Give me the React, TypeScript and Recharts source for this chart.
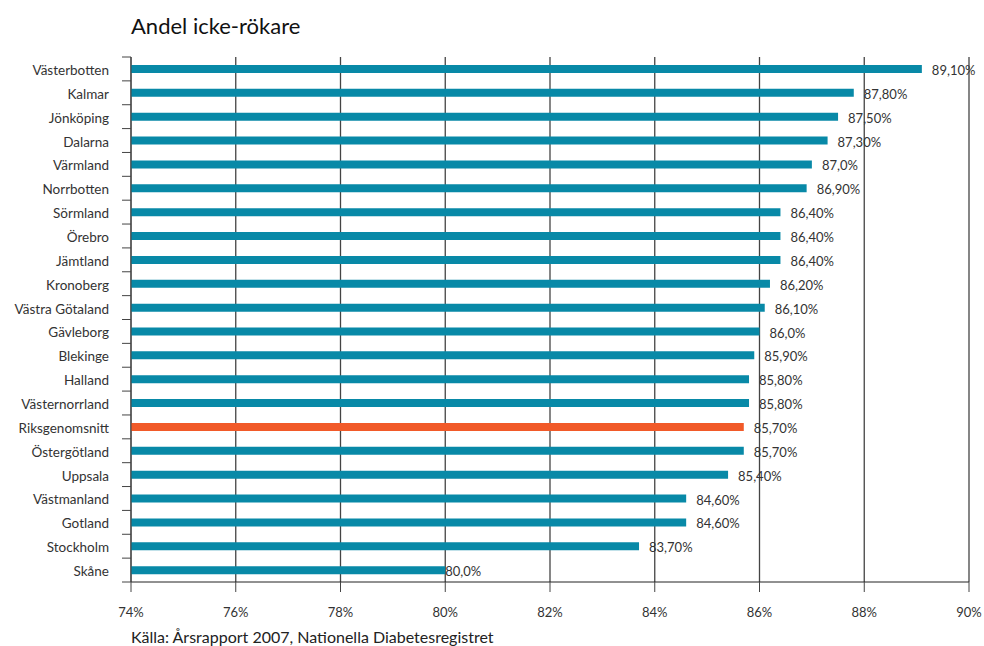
import React from "react";
import { BarChart, Bar, XAxis, YAxis, CartesianGrid, Cell, LabelList } from "recharts";

const regions = [
  "Västerbotten", "Kalmar", "Jönköping", "Dalarna", "Värmland", "Norrbotten",
  "Sörmland", "Örebro", "Jämtland", "Kronoberg", "Västra Götaland", "Gävleborg",
  "Blekinge", "Halland", "Västernorrland", "Riksgenomsnitt", "Östergötland",
  "Uppsala", "Västmanland", "Gotland", "Stockholm", "Skåne",
];
const shares = [
  89.1, 87.8, 87.5, 87.3, 87.0, 86.9, 86.4, 86.4, 86.4, 86.2, 86.1, 86.0,
  85.9, 85.8, 85.8, 85.7, 85.7, 85.4, 84.6, 84.6, 83.7, 80.0,
];
const shareLabels = [
  "89,10%", "87,80%", "87,50%", "87,30%", "87,0%", "86,90%", "86,40%", "86,40%",
  "86,40%", "86,20%", "86,10%", "86,0%", "85,90%", "85,80%", "85,80%", "85,70%",
  "85,70%", "85,40%", "84,60%", "84,60%", "83,70%", "80,0%",
];
const xTicks = [74, 76, 78, 80, 82, 84, 86, 88, 90];
const highlight = "Riksgenomsnitt";

const FONT = "Lato, 'Open Sans', sans-serif";
const TEAL = "#0889a7";
const ORANGE = "#f15a29";

const data = regions.map((name, i) => ({ name, value: shares[i], label: shareLabels[i] }));

const TOP = 57;
const BOTTOM = 582;
const BAND = (BOTTOM - TOP) / regions.length;

// category label plus a short tick at the band boundary (ticks sit between rows)
function RegionTick({ x, y, payload, index }: any) {
  const top = y - BAND / 2;
  return (
    <g>
      <line x1={x - 9} x2={x} y1={top} y2={top} stroke="#444" />
      {index === regions.length - 1 && (
        <line x1={x - 9} x2={x} y1={y + BAND / 2} y2={y + BAND / 2} stroke="#444" />
      )}
      <text x={x - 22} y={y} dy={6} textAnchor="end" fontSize={13.5} fill="#333" fontFamily={FONT}>
        {payload.value}
      </text>
    </g>
  );
}

function PercentTick({ x, payload }: any) {
  return (
    <text x={x} y={BOTTOM + 35} textAnchor="middle" fontSize={13} fill="#333" fontFamily={FONT}>
      {`${payload.value}%`}
    </text>
  );
}

function ValueLabel({ x, y, width, height, value, index }: any) {
  const gap = index === regions.length - 1 ? 0 : 10;
  return (
    <text x={x + width + gap} y={y + height / 2} dy={6} fontSize={13} fill="#333" fontFamily={FONT}>
      {value}
    </text>
  );
}

export default function App() {
  return (
    <div style={{ position: "absolute", left: 0, top: 0, width: 984, height: 646, background: "#fff", fontFamily: FONT }}>
      <div style={{ position: "absolute", left: 131, top: 12, fontSize: 22, color: "#111" }}>
        Andel icke-rökare
      </div>
      <BarChart
        width={984}
        height={646}
        data={data}
        layout="vertical"
        margin={{ top: TOP, right: 15, bottom: 24, left: 0 }}
      >
        <CartesianGrid horizontal={false} stroke="#444" strokeWidth={1.3} />
        <XAxis
          type="number"
          domain={[74, 90]}
          ticks={xTicks}
          allowDataOverflow
          height={40}
          tickSize={10}
          axisLine={{ stroke: "#222" }}
          tickLine={{ stroke: "#444" }}
          tick={<PercentTick />}
        />
        <YAxis
          type="category"
          dataKey="name"
          width={131}
          interval={0}
          tickSize={0}
          tickMargin={0}
          tickLine={false}
          axisLine={{ stroke: "#444" }}
          tick={<RegionTick />}
        />
        <Bar dataKey="value" barSize={8} isAnimationActive={false}>
          {data.map((d) => (
            <Cell key={d.name} fill={d.name === highlight ? ORANGE : TEAL} />
          ))}
          <LabelList dataKey="label" content={<ValueLabel />} />
        </Bar>
      </BarChart>
      <div style={{ position: "absolute", left: 131, top: 627, fontSize: 16, color: "#222" }}>
        Källa: Årsrapport 2007, Nationella Diabetesregistret
      </div>
    </div>
  );
}
